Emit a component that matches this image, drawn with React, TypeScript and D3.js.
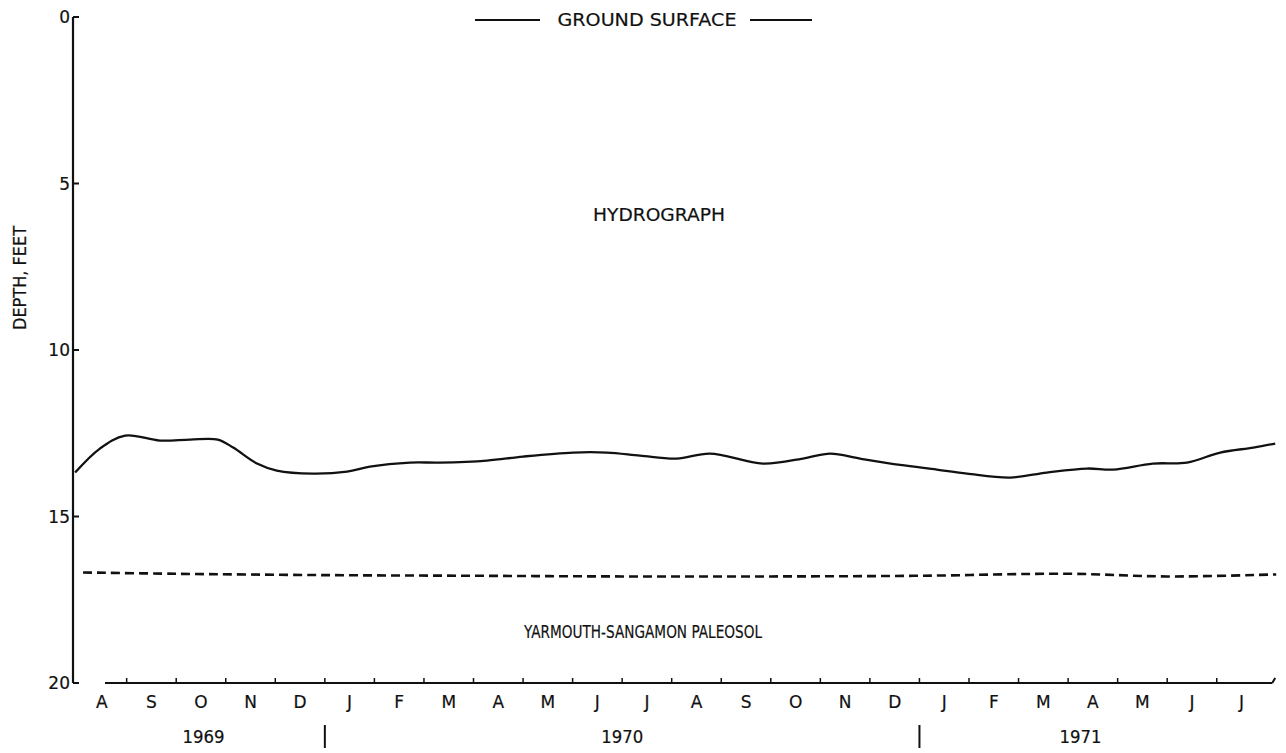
import React from "react";
import * as d3 from "d3";

// Months since 1 Aug 1969 (fractional) and depth in feet
const hydroMonths = [-0.04, 0.46, 0.97, 1.67, 2.28, 2.84, 3.15, 3.63, 4.03, 4.76, 5.45, 5.91, 6.72, 7.32, 8.27, 9.0, 10.01, 10.69, 11.36, 12.1, 12.77, 13.84, 14.65, 15.2, 15.8, 16.61, 17.35, 17.96, 18.83, 19.57, 20.38, 20.91, 21.71, 22.4, 23.07, 23.74, 24.18];
const hydroDepth = [13.68, 12.96, 12.57, 12.72, 12.69, 12.69, 12.93, 13.41, 13.62, 13.71, 13.65, 13.5, 13.38, 13.38, 13.32, 13.2, 13.08, 13.08, 13.17, 13.26, 13.11, 13.41, 13.26, 13.11, 13.26, 13.45, 13.59, 13.71, 13.83, 13.68, 13.56, 13.59, 13.41, 13.38, 13.08, 12.93, 12.81];

const paleoMonths = [0.12, 2, 5, 8, 11, 14, 17, 20, 22, 24.2];
const paleoDepth = [16.68, 16.72, 16.76, 16.78, 16.8, 16.8, 16.78, 16.72, 16.8, 16.74];

const monthLabels = ["A", "S", "O", "N", "D", "J", "F", "M", "A", "M", "J", "J", "A", "S", "O", "N", "D", "J", "F", "M", "A", "M", "J", "J"];
const yearLabels = ["1969", "1970", "1971"];
const yearCenters = [2.55, 11.0, 20.25]; // month positions of year labels
const yearBreaks = [5, 17]; // January boundaries
const depthTicks = [0, 5, 10, 15, 20];

const FONT = "'DejaVu Sans', sans-serif";
const INK = "#111";

export default function App() {
  const x = d3.scaleLinear().domain([0, 24]).range([77.1, 77.1 + 24 * 49.55]);
  const y = d3.scaleLinear().domain([0, 20]).range([17, 683]);
  const axisX = 73;

  const hydro = hydroMonths.map((m, i) => [m, hydroDepth[i]] as [number, number]);
  const paleo = paleoMonths.map((m, i) => [m, paleoDepth[i]] as [number, number]);

  const line = d3
    .line<[number, number]>()
    .x((d) => x(d[0]))
    .y((d) => y(d[1]))
    .curve(d3.curveCatmullRom.alpha(0.5));

  const boundaries = d3.range(1, 24);
  const textStyle = { fontFamily: FONT, fill: INK, stroke: INK, strokeWidth: 0.2 } as const;

  return (
    <svg width={1286} height={753} style={{ position: "absolute", left: 0, top: 0, background: "#fff" }}>
      <rect x={0} y={0} width={1286} height={753} fill="#fff" />
      {/* Left axis */}
      <line x1={axisX} y1={y(0)} x2={axisX} y2={y(20)} stroke={INK} strokeWidth={2.2} />
      {depthTicks.map((t) => (
        <g key={t}>
          <line x1={axisX} y1={y(t)} x2={axisX + 6} y2={y(t)} stroke={INK} strokeWidth={2} />
          <text x={axisX - 3} y={y(t)} dy="0.36em" textAnchor="end" fontSize={17} {...textStyle}>
            {t}
          </text>
        </g>
      ))}
      {/* Bottom axis */}
      <line x1={105} y1={y(20)} x2={x(24.12)} y2={y(20)} stroke={INK} strokeWidth={2.2} />
      <line x1={x(24.12)} y1={y(20)} x2={x(24.18)} y2={y(20) - 5} stroke={INK} strokeWidth={2} />
      {boundaries.map((b) => (
        <line key={b} x1={x(b)} y1={y(20)} x2={x(b)} y2={y(20) - 5} stroke={INK} strokeWidth={1.5} />
      ))}
      {monthLabels.map((m, i) => (
        <text key={i} x={x(i + 0.5)} y={702} dy="0.36em" textAnchor="middle" fontSize={17} {...textStyle}>
          {m}
        </text>
      ))}
      {yearLabels.map((yl, i) => (
        <text key={yl} x={x(yearCenters[i])} y={737} dy="0.36em" textAnchor="middle" fontSize={17} textLength={42} lengthAdjust="spacingAndGlyphs" {...textStyle}>
          {yl}
        </text>
      ))}
      {yearBreaks.map((b) => (
        <line key={b} x1={x(b)} y1={725} x2={x(b)} y2={748} stroke={INK} strokeWidth={2} />
      ))}
      {/* Data */}
      <path d={line(hydro) || ""} fill="none" stroke={INK} strokeWidth={2.3} />
      <path d={line(paleo) || ""} fill="none" stroke={INK} strokeWidth={2.6} strokeDasharray="9 5" />
      {/* Annotations */}
      <line x1={475} y1={20} x2={540} y2={20} stroke={INK} strokeWidth={1.8} />
      <line x1={750} y1={20} x2={812} y2={20} stroke={INK} strokeWidth={1.8} />
      <text x={647} y={20} dy="0.36em" textAnchor="middle" fontSize={17.5} textLength={179} lengthAdjust="spacingAndGlyphs" {...textStyle}>
        GROUND SURFACE
      </text>
      <text x={659} y={215} dy="0.36em" textAnchor="middle" fontSize={17.5} textLength={132} lengthAdjust="spacingAndGlyphs" {...textStyle}>
        HYDROGRAPH
      </text>
      <text x={643} y={632} dy="0.36em" textAnchor="middle" fontSize={17.5} textLength={238} lengthAdjust="spacingAndGlyphs" {...textStyle}>
        YARMOUTH-SANGAMON PALEOSOL
      </text>
      <text transform="translate(20,278) rotate(-90)" dy="0.36em" textAnchor="middle" fontSize={17.5} textLength={104} lengthAdjust="spacingAndGlyphs" {...textStyle}>
        DEPTH, FEET
      </text>
    </svg>
  );
}
